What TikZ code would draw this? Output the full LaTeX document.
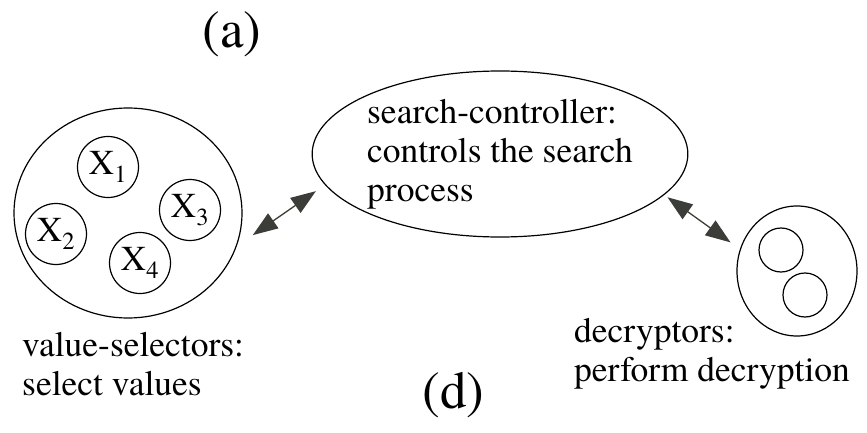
\documentclass[tikz,border=0pt]{standalone}
\usepackage{fontspec}
\setmainfont{texgyretermes}[Extension=.otf,UprightFont=*-regular,BoldFont=*-bold,
  ItalicFont=*-italic,BoldItalicFont=*-bolditalic]
\usetikzlibrary{arrows.meta,positioning,shapes.geometric}
\definecolor{arrowgray}{HTML}{3B3E38}
\tikzset{
  bidir/.style={<->,>={Triangle[length=25pt,width=18pt]},line width=1.3pt,color=arrowgray},
}

\begin{document}
\begin{tikzpicture}[x=1pt,y=-1pt,
        group/.style={ellipse, draw, line width=1.2pt, inner sep=0pt},
        var/.style={circle, draw, line width=1.2pt, minimum size=61pt, inner sep=0pt,
        font={\fontsize{35}{38}\selectfont}},
        tag/.style={align=left, inner sep=0pt, font={\fontsize{35.5}{39}\selectfont}},
        letter/.style={inner sep=0pt, font={\fontsize{53}{53}\selectfont}}
        ]
    \useasboundingbox (0,0) rectangle (867,433);

    % value selectors
    \node[group, minimum width=228pt, minimum height=210pt] (sel) at (128,213) {};
    \node[var] (x1) at (108,167) {X\textsubscript{1}};
    \node[var] (x2) at (56,234) {X\textsubscript{2}};
    \node[var] (x3) at (190,210) {X\textsubscript{3}};
    \node[var] (x4) at (140,263) {X\textsubscript{4}};

    % search controller
    \node[group, tag, minimum width=372pt, minimum height=166pt] (ctrl) at (500,154)
        {search-controller:\\controls the search\\process};

    % decryptors
    \node[group, minimum width=120pt, minimum height=130pt] (dec) at (797,271) {};
    \node[var, minimum size=44pt] (d1) at (781,250) {};
    \node[var, minimum size=44pt] (d2) at (805,295) {};

    % labels
    \node[tag, anchor=north west] (lsel) at (22,332) {value-selectors:\\select values};
    \node[tag, anchor=north west] (ldec) at (574,318) {decryptors:\\perform decryption};
    \node[letter, anchor=base] (la) at (232,48) {(a)};
    \node[letter, anchor=base] (ld) at (453.5,408) {(d)};

    \draw[bidir, shorten <=19.5pt, shorten >=11pt] (sel.-17.4) -- (ctrl.190.5);
    \draw[bidir, shorten <=4pt, shorten >=11.5pt] (ctrl.-14.6) -- (dec.159.1);

\end{tikzpicture}
\end{document}
